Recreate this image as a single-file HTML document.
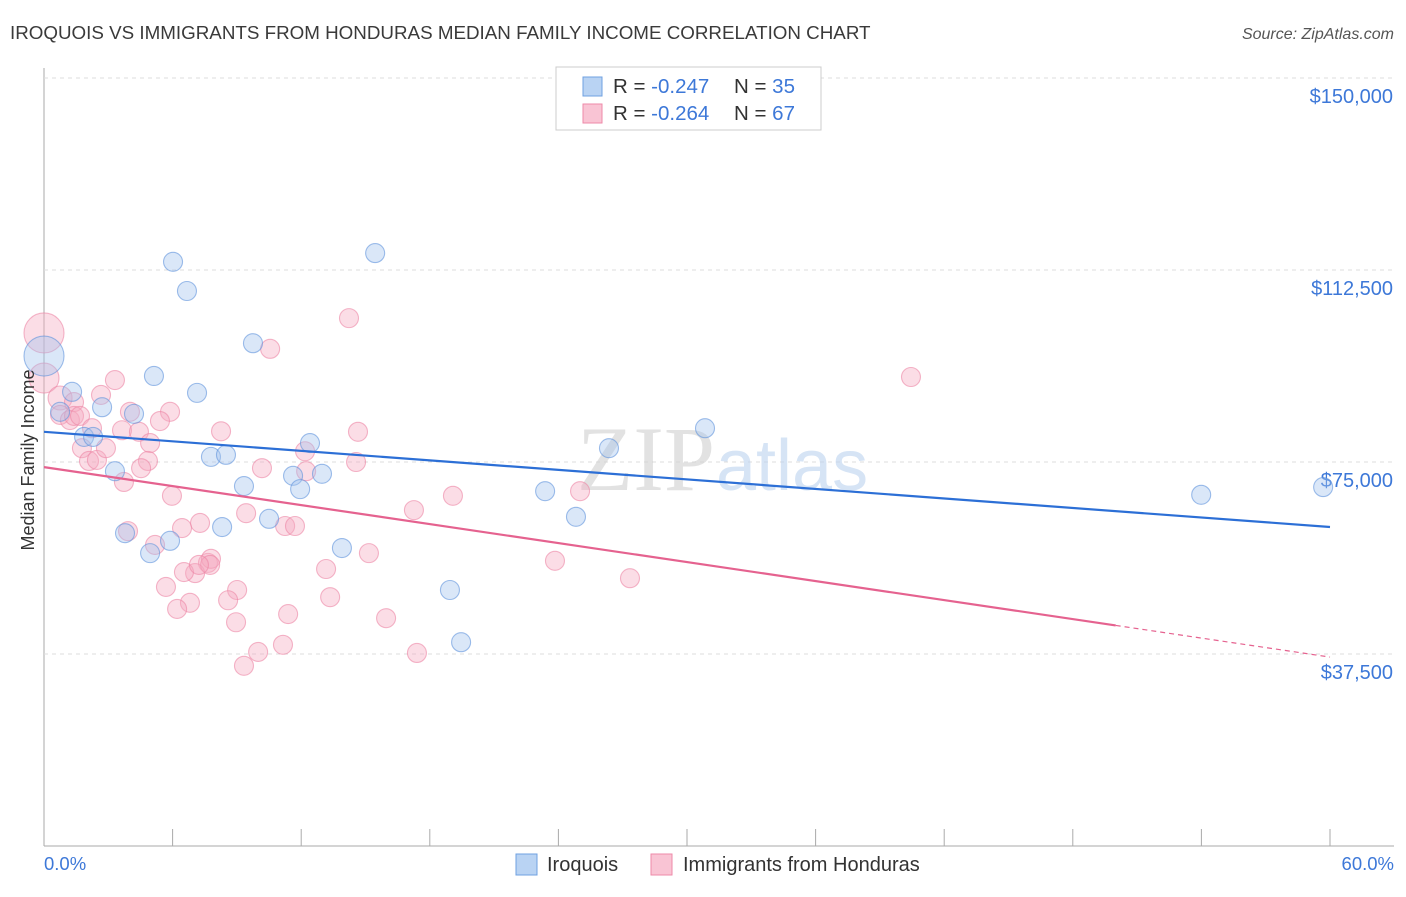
<!DOCTYPE html>
<html><head><meta charset="utf-8"><style>
body{margin:0;background:#fff;font-family:"Liberation Sans",sans-serif;}
svg text{font-family:"Liberation Sans",sans-serif;}
</style></head><body>
<svg id="chart" width="1406" height="892">
<text x="10" y="39" font-size="18.8" fill="#3a3a3a">IROQUOIS VS IMMIGRANTS FROM HONDURAS MEDIAN FAMILY INCOME CORRELATION CHART</text>
<text x="1394" y="39" font-size="16" fill="#555" text-anchor="end" font-style="italic">Source: ZipAtlas.com</text>
<g id="grid"></g>
<text x="715" y="490" font-size="92" fill="#d0d0d0" text-anchor="end" style="font-family:'Liberation Serif',serif" opacity="0.6">ZIP</text>
<text x="716" y="490" font-size="72" fill="#bcd3f0" opacity="0.6">atlas</text>
<g id="points"></g>
<g id="lines"></g>
<text x="28" y="460" font-size="18" fill="#333" text-anchor="middle" transform="rotate(-90 28 460)" dy="6">Median Family Income</text>
<text x="44" y="870" font-size="18.5" fill="#3d78d8">0.0%</text>
<text x="1394" y="870" font-size="18.5" fill="#3d78d8" text-anchor="end">60.0%</text>
<g>
<rect x="556" y="67" width="265" height="63" fill="#fff" stroke="#ccc"/>
<rect x="583" y="77" width="19" height="19" fill="#b9d3f3" stroke="#6fa0e0"/>
<rect x="583" y="104" width="19" height="19" fill="#f9c4d4" stroke="#ee8aa8"/>
<text x="613" y="93" font-size="20.5" fill="#333">R = <tspan fill="#3d78d8">-0.247</tspan><tspan x="734">N = </tspan><tspan fill="#3d78d8">35</tspan></text>
<text x="613" y="120" font-size="20.5" fill="#333">R = <tspan fill="#3d78d8">-0.264</tspan><tspan x="734">N = </tspan><tspan fill="#3d78d8">67</tspan></text>
</g>
<g>
<rect x="516" y="854" width="21" height="21" fill="#b9d3f3" stroke="#6fa0e0"/>
<text x="547" y="871" font-size="20" fill="#333">Iroquois</text>
<rect x="651" y="854" width="21" height="21" fill="#f9c4d4" stroke="#ee8aa8"/>
<text x="683" y="871" font-size="20" fill="#333">Immigrants from Honduras</text>
</g>
</svg>
<script>
const yTicks=[37500,75000,112500,150000];
const yTickLabels=["$37,500","$75,000","$112,500","$150,000"];
const xTicks=[0,6,12,18,24,30,36,42,48,54,60];
const blueX=[0,6.02,6.67,15.45,9.75,5.13,7.14,1.31,2.71,0.75,4.20,1.87,2.29,7.79,8.49,12.41,30.84,26.36,3.31,9.33,11.62,12.97,11.95,23.38,24.82,10.50,8.31,3.78,5.88,4.95,13.90,18.94,19.46,53.99,59.68];
const blueY=[95.7,114.1,108.4,115.8,98.2,91.8,88.5,88.7,85.7,84.8,84.4,79.9,79.9,76.0,76.4,78.7,81.6,77.7,73.2,70.3,72.3,72.7,69.7,69.3,64.3,63.9,62.3,61.1,59.6,57.2,58.2,50.0,39.8,68.6,70.1];
const blueR=[20];
const pinkX=[0,0,0.75,0.75,1.40,1.21,1.40,1.68,2.66,3.31,4.01,5.88,5.41,2.24,1.77,2.10,2.47,2.89,3.64,4.43,4.95,4.85,4.53,3.73,8.26,10.55,14.23,14.65,14.56,10.17,12.18,12.23,5.97,9.43,7.28,6.44,3.92,5.18,11.25,11.71,17.26,19.08,25.01,40.45,23.84,27.34,15.16,13.16,7.65,7.79,7.05,6.53,5.69,9.01,8.59,6.81,6.21,13.35,11.39,15.96,8.96,9.99,11.15,9.33,17.40,7.75,7.23];
const pinkY=[100.2,91.4,87.5,84.2,86.7,83.2,84.0,84.0,88.1,91.0,84.8,84.8,83.0,81.6,77.7,75.2,75.4,77.7,81.2,80.9,78.7,75.2,73.8,71.1,81.0,97.1,103.1,80.9,75.0,73.8,77.1,73.2,68.4,65.0,63.1,62.1,61.5,58.8,62.5,62.5,65.6,68.4,69.3,91.6,55.7,52.3,57.2,54.1,55.3,56.1,53.3,53.5,50.6,50.0,48.0,47.5,46.3,48.6,45.3,44.5,43.7,37.9,39.3,35.2,37.7,54.9,54.9];
const pinkR=[20,15,12];
const blueTrend=[80.9,62.3];
const pinkTrend=[74.0,36.9];
const pinkSolidEnd=50;
const NS="http://www.w3.org/2000/svg";
const xs=v=>44+v/60*1286;
const ys=v=>846-v/37.5*192;
const gridG=document.getElementById('grid');
function mk(t,a,p){const e=document.createElementNS(NS,t);for(const k in a)e.setAttribute(k,a[k]);p.appendChild(e);return e;}
const ax=mk('line',{x1:44,y1:68,x2:44,y2:846,stroke:'#aaa'},gridG);


const bx=mk('line',{x1:44,y1:846,x2:1394,y2:846,stroke:'#aaa'},gridG);


yTicks.forEach((t,i)=>{const y=ys(t/1000);
const g=mk('line',{x1:44,y1:y,x2:1394,y2:y,stroke:'#ddd','stroke-dasharray':'4,4'},gridG);


const l=mk('text',{x:1393,y:y+25,'font-size':20,fill:'#3d78d8','text-anchor':'end'},gridG);l.textContent=yTickLabels[i];

});
xTicks.forEach(t=>{const k=mk('line',{x1:xs(t),y1:829,x2:xs(t),y2:846,stroke:'#aaa'},gridG);

});
const pts=document.getElementById('points');
function series(X,Y,R,fill,stroke,name){X.forEach((x,i)=>{const c=mk('circle',{cx:xs(x),cy:ys(Y[i]),r:R[i]||9.5,fill:fill,'fill-opacity':0.4,stroke:stroke,'stroke-opacity':0.6,'stroke-width':1.1},pts);

});}
series(pinkX,pinkY,pinkR,'#f5a9c0','#ec86a5','honduras-point');
series(blueX,blueY,blueR,'#a3c4ee','#5f93dc','iroquois-point');
const ln=document.getElementById('lines');
const b=mk('line',{x1:xs(0),y1:ys(blueTrend[0]),x2:xs(60),y2:ys(blueTrend[1]),stroke:'#2c6fd6','stroke-width':2.2},ln);


const pm=pinkTrend[0]+(pinkTrend[1]-pinkTrend[0])*pinkSolidEnd/60;
const p=mk('line',{x1:xs(0),y1:ys(pinkTrend[0]),x2:xs(pinkSolidEnd),y2:ys(pm),stroke:'#e5628f','stroke-width':2.2},ln);


const pd=mk('line',{x1:xs(pinkSolidEnd),y1:ys(pm),x2:xs(60),y2:ys(pinkTrend[1]),stroke:'#e5628f','stroke-width':1.2,'stroke-dasharray':'5,4'},ln);


</script>
</body></html>
